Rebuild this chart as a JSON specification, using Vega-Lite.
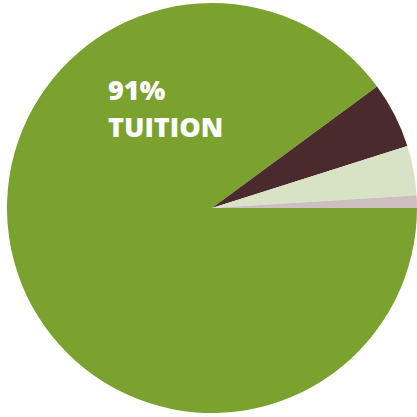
{
  "$schema": "https://vega.github.io/schema/vega-lite/v6.json",
  "width": 417,
  "height": 417,
  "autosize": {"type": "fit", "contains": "padding"},
  "padding": {"left": 7, "top": 0, "right": 0, "bottom": 1},
  "background": "#ffffff",
  "view": {"stroke": null},
  "data": {
    "values": [
      {"category": "Tuition", "value": 89.9, "order": 1, "label": "91%\nTUITION"},
      {"category": "Other A", "value": 5.2, "order": 2, "label": ""},
      {"category": "Other B", "value": 3.9, "order": 3, "label": ""},
      {"category": "Other C", "value": 1.0, "order": 4, "label": ""}
    ]
  },
  "layer": [
    {
      "mark": {"type": "arc", "outerRadius": 205, "stroke": null},
      "encoding": {
        "theta": {"field": "value", "type": "quantitative", "stack": true, "scale": {"range": [1.5708, 7.854]}},
        "order": {"field": "order", "type": "quantitative"},
        "color": {
          "field": "category",
          "type": "nominal",
          "legend": null,
          "scale": {
            "domain": ["Tuition", "Other A", "Other B", "Other C"],
            "range": ["#7ba22f", "#4a2a2c", "#d8e2c4", "#cdbfc0"]
          }
        }
      }
    },
    {
      "transform": [{"filter": "datum.category === 'Tuition'"}],
      "mark": {
        "type": "text",
        "x": 101,
        "y": 79,
        "align": "left",
        "baseline": "top",
        "font": "Open Sans",
        "fontWeight": 800,
        "fontSize": 27,
        "lineHeight": 37,
        "lineBreak": "\n",
        "color": "#ffffff"
      },
      "encoding": {
        "text": {"field": "label", "type": "nominal"}
      }
    }
  ]
}
